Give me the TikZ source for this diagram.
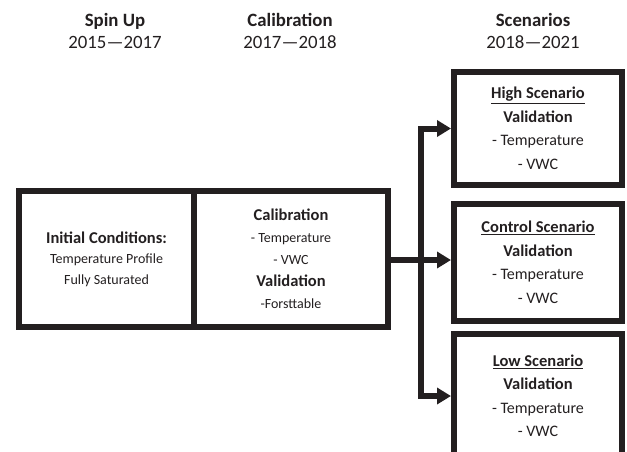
\documentclass[tikz,border=0pt]{standalone}
\usepackage{fontspec}
\setmainfont{Carlito}
\usetikzlibrary{arrows.meta,positioning}
\definecolor{ink}{HTML}{231F20}

\newcommand{\hb}[1]{{\bfseries\fontsize{16.5}{22}\selectfont #1}}

\begin{document}
\begin{tikzpicture}[x=1pt,y=-1pt]
\tikzset{
  box/.style={draw=ink, line width=6pt, inner sep=0pt, align=center, text=ink},
  head/.style={align=center, text=ink, font=\fontsize{18.8}{22}\selectfont},
  flow/.style={draw=ink, line width=6pt, -{Triangle[length=14pt,width=16pt]}}
}
\useasboundingbox (0,0) rectangle (627,451);
\node [head] (spinhead) at (115,31) {\textbf{Spin Up}\\2015—2017};
\node [head] (calhead) at (290,31) {\textbf{Calibration}\\2017—2018};
\node [head] (scenhead) at (533,31) {\textbf{Scenarios}\\2018—2021};
\node [box, minimum width=175pt, minimum height=136pt, font=\fontsize{14}{20.5}\selectfont] (init) at (106.5,259)
  {\hb{Initial Conditions:}\\Temperature Profile\\Fully Saturated};
\node [box, minimum width=194pt, minimum height=136pt, font=\fontsize{14}{22}\selectfont] (calib) at (291,259)
  {\hb{Calibration}\\- Temperature\\- VWC\\\hb{Validation}\\-Forsttable};
\node [box, minimum width=168pt, minimum height=113pt, font=\fontsize{16}{23.5}\selectfont] (high) at (538,128.5)
  {\hb{\underline{High Scenario}}\\\hb{Validation}\\- Temperature\\- VWC};
\node [box, minimum width=168pt, minimum height=117pt, font=\fontsize{16}{23.5}\selectfont] (ctrl) at (538,262.5)
  {\hb{\underline{Control Scenario}}\\\hb{Validation}\\- Temperature\\- VWC};
\node [box, minimum width=168pt, minimum height=124pt, font=\fontsize{16}{23.5}\selectfont] (low) at (538,396)
  {\hb{\underline{Low Scenario}}\\\hb{Validation}\\- Temperature\\- VWC};
\coordinate (split) at (421,260);
\draw [flow] (calib.east |- split) -- (split -| ctrl.west);
\draw [flow] (split) |- (high.west);
\draw [flow] (split) |- (low.west);
\end{tikzpicture}
\end{document}
